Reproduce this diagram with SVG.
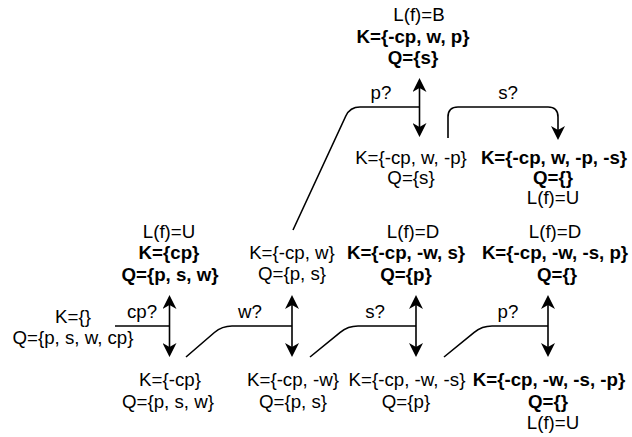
<svg xmlns="http://www.w3.org/2000/svg" width="632" height="437" viewBox="0 0 632 437">
<style>
text{font-family:"Liberation Sans",Arial,Helvetica,sans-serif;font-size:18.7px;fill:#000;text-anchor:middle}
.b{font-weight:bold}
.e{fill:none;stroke:#000;stroke-width:1.6}
</style>
<defs>
<marker id="ah" markerUnits="userSpaceOnUse" markerWidth="14" markerHeight="14" viewBox="0 0 14 14" refX="11" refY="7" orient="auto-start-reverse">
<path d="M0,0 L14,7 L0,14 L4,7 Z" fill="#000"/>
</marker>
</defs>
<rect width="632" height="437" fill="#fff"/>
<g id="connectors">
<path class="e" d="M169.5,298 L169.5,354" marker-start="url(#ah)" marker-end="url(#ah)"/>
<path class="e" d="M292,298 L292,354" marker-start="url(#ah)" marker-end="url(#ah)"/>
<path class="e" d="M416,298 L416,354" marker-start="url(#ah)" marker-end="url(#ah)"/>
<path class="e" d="M548,298 L548,354" marker-start="url(#ah)" marker-end="url(#ah)"/>
<path class="e" d="M419.5,81 L419.5,134" marker-start="url(#ah)" marker-end="url(#ah)"/>
<path class="e" d="M115,326 L169.5,326"/>
<path class="e" d="M186,357 L214.4,332.5 Q222,326 232,326 L292,326"/>
<path class="e" d="M310,357 L340.2,332.3 Q348,326 358,326 L416,326"/>
<path class="e" d="M444,357 L474.2,332.3 Q482,326 492,326 L548,326"/>
<path class="e" d="M293,230 L345.8,116 Q350,107 360,107 L419.5,107"/>
<path class="e" d="M448,138 L448,117 Q448,107 458,107 L548,107 Q558,107 558,117 L558,137" marker-end="url(#ah)"/>
<text x="142" y="318">cp?</text>
<text x="250" y="318">w?</text>
<text x="375" y="318">s?</text>
<text x="508" y="318">p?</text>
<text x="381" y="99">p?</text>
<text x="508" y="99">s?</text>
</g>
<g id="n-top">
<text x="419" y="21">L(f)=B</text>
<text class="b" x="413" y="43">K={-cp, w, p}</text>
<text class="b" x="413" y="64">Q={s}</text>
</g>
<g id="n-top-left">
<text x="411" y="164">K={-cp, w, -p}</text>
<text x="411" y="184">Q={s}</text>
</g>
<g id="n-top-right">
<text class="b" x="554" y="164">K={-cp, w, -p, -s}</text>
<text class="b" x="553" y="184">Q={}</text>
<text x="553" y="204">L(f)=U</text>
</g>
<g id="n-start">
<text x="73" y="323">K={}</text>
<text x="73" y="344">Q={p, s, w, cp}</text>
</g>
<g id="n-cp">
<text x="169" y="238">L(f)=U</text>
<text class="b" x="169" y="259">K={cp}</text>
<text class="b" x="170" y="281">Q={p, s, w}</text>
</g>
<g id="n-ncp">
<text x="170" y="386">K={-cp}</text>
<text x="168" y="408">Q={p, s, w}</text>
</g>
<g id="n-w">
<text x="292" y="259">K={-cp, w}</text>
<text x="292" y="280">Q={p, s}</text>
</g>
<g id="n-nw">
<text x="293" y="386">K={-cp, -w}</text>
<text x="293" y="408">Q={p, s}</text>
</g>
<g id="n-s">
<text x="413" y="238">L(f)=D</text>
<text class="b" x="406" y="259">K={-cp, -w, s}</text>
<text class="b" x="406" y="281">Q={p}</text>
</g>
<g id="n-ns">
<text x="407" y="386">K={-cp, -w, -s}</text>
<text x="406" y="408">Q={p}</text>
</g>
<g id="n-p">
<text x="555" y="238">L(f)=D</text>
<text class="b" x="555" y="259">K={-cp, -w, -s, p}</text>
<text class="b" x="557" y="281">Q={}</text>
</g>
<g id="n-np">
<text class="b" x="549" y="386">K={-cp, -w, -s, -p}</text>
<text class="b" x="548" y="408">Q={}</text>
<text x="553" y="429">L(f)=U</text>
</g>
</svg>
